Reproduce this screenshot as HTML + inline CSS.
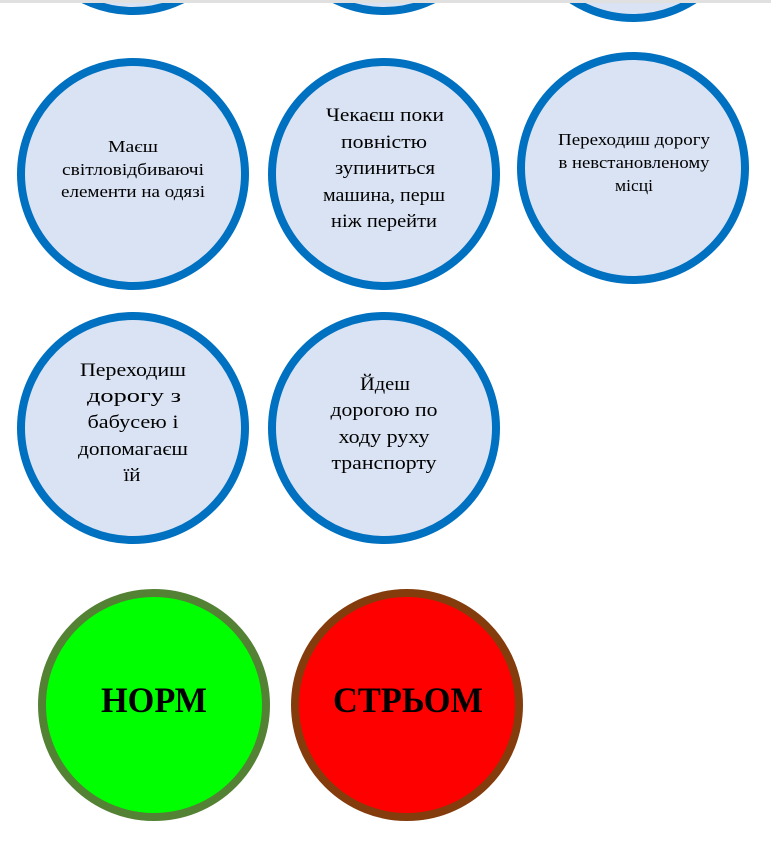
<!DOCTYPE html>
<html><head><meta charset="utf-8"><style>
html,body{margin:0;padding:0;background:#fff;}
svg{display:block;}
text{font-family:"Liberation Serif",serif;fill:#000;text-anchor:middle;}
</style></head><body>
<svg width="771" height="857" viewBox="0 0 771 857" xmlns="http://www.w3.org/2000/svg">
<rect x="0" y="0" width="771" height="857" fill="#fff"/>
<g fill="#dae3f3" stroke="#0070c0" stroke-width="8">
<circle cx="133" cy="-101" r="112"/>
<circle cx="384" cy="-101" r="112"/>
<circle cx="633" cy="-94" r="112"/>
<circle cx="133" cy="174" r="112"/>
<circle cx="384" cy="174" r="112"/>
<circle cx="633" cy="168" r="112"/>
<circle cx="133" cy="428" r="112"/>
<circle cx="384" cy="428" r="112"/>
</g>
<rect x="0" y="0" width="771" height="3" fill="#e0e0e0"/>
<circle cx="154" cy="705" r="112" fill="#00ff00" stroke="#548235" stroke-width="8"/>
<circle cx="407" cy="705" r="112" fill="#ff0000" stroke="#843c0c" stroke-width="8"/>

<g font-size="17">
<text x="133" y="152" textLength="50" lengthAdjust="spacingAndGlyphs">Маєш</text>
<text x="133" y="175" textLength="142" lengthAdjust="spacingAndGlyphs">світловідбиваючі</text>
<text x="133" y="197" textLength="144" lengthAdjust="spacingAndGlyphs">елементи на одязі</text>
<text x="634" y="145" textLength="152" lengthAdjust="spacingAndGlyphs">Переходиш дорогу</text>
<text x="634" y="168" textLength="151" lengthAdjust="spacingAndGlyphs">в невстановленому</text>
<text x="634" y="191" textLength="38" lengthAdjust="spacingAndGlyphs">місці</text>
</g>
<g font-size="19">
<text x="385" y="121" textLength="118" lengthAdjust="spacingAndGlyphs">Чекаєш поки</text>
<text x="384" y="148" textLength="86" lengthAdjust="spacingAndGlyphs">повністю</text>
<text x="385" y="174" textLength="100" lengthAdjust="spacingAndGlyphs">зупиниться</text>
<text x="384" y="201" textLength="122" lengthAdjust="spacingAndGlyphs">машина, перш</text>
<text x="384" y="227" textLength="106" lengthAdjust="spacingAndGlyphs">ніж перейти</text>

<text x="133" y="376" textLength="106" lengthAdjust="spacingAndGlyphs">Переходиш</text>
<text x="134" y="402" textLength="94" lengthAdjust="spacingAndGlyphs">дорогу з</text>
<text x="133" y="428" textLength="91" lengthAdjust="spacingAndGlyphs">бабусею і</text>
<text x="133" y="455" textLength="110" lengthAdjust="spacingAndGlyphs">допомагаєш</text>
<text x="132" y="481" textLength="17" lengthAdjust="spacingAndGlyphs">їй</text>

<text x="385" y="390" textLength="50" lengthAdjust="spacingAndGlyphs">Йдеш</text>
<text x="384" y="416" textLength="107" lengthAdjust="spacingAndGlyphs">дорогою по</text>
<text x="384" y="443" textLength="91" lengthAdjust="spacingAndGlyphs">ходу руху</text>
<text x="384" y="469" textLength="105" lengthAdjust="spacingAndGlyphs">транспорту</text>
</g>
<g font-size="36" font-weight="bold">
<text x="154" y="712" textLength="106" lengthAdjust="spacingAndGlyphs">НОРМ</text>
<text x="408" y="712" textLength="150" lengthAdjust="spacingAndGlyphs">СТРЬОМ</text>
</g>
</svg>
</body></html>
